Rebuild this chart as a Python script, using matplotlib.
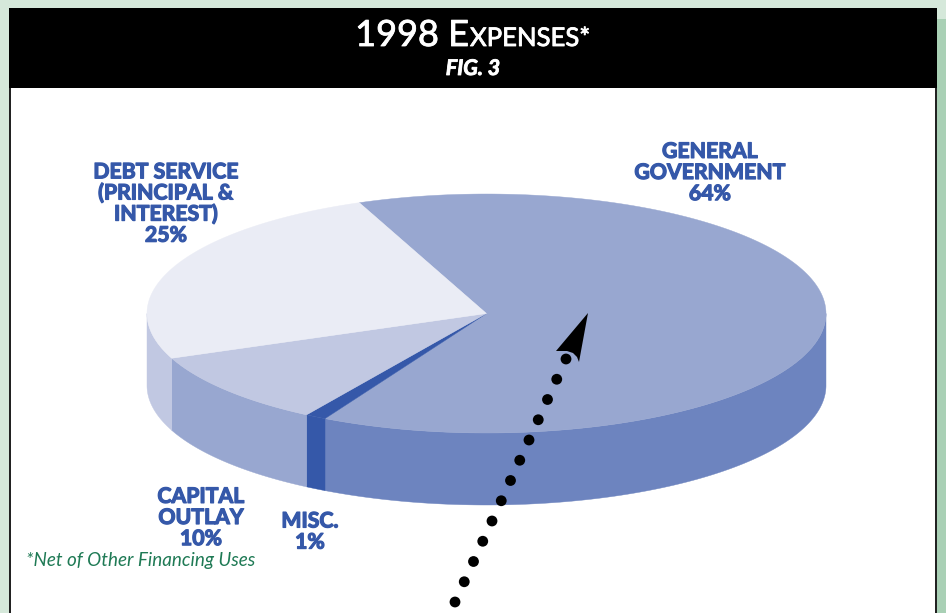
import numpy as np
import matplotlib
matplotlib.use('Agg')
import matplotlib.pyplot as plt
import matplotlib.patheffects as pe
from matplotlib.patches import Polygon, Rectangle, Circle

# slices, clockwise from the back of the pie
categories = ['General Government', 'Misc.', 'Capital Outlay', 'Debt Service']
shares = [64, 1, 10, 25]
top_colors = ['#98A7D0', '#3558A9', '#C1C8E2', '#EAECF5']
side_colors = ['#6D84BF', '#3558A9', '#98A7D0', '#C1C8E2']
labels = ['GENERAL\nGOVERNMENT\n64%', 'MISC.\n1%', 'CAPITAL\nOUTLAY\n10%',
          'DEBT SERVICE\n(PRINCIPAL &\nINTEREST)\n25%']
label_pos = [(710, 173), (310, 532), (201, 518), (166, 204)]

blue = '#3558A9'
cx, cy, rx, ry, depth = 486.5, 313.5, 339.5, 119.5, 72
start_angle = 112

fig = plt.figure(figsize=(9.46, 6.13), dpi=100)
ax = fig.add_axes([0, 0, 1, 1])
ax.set_xlim(0, 946)
ax.set_ylim(613, 0)
ax.axis('off')

# page background and frame
ax.add_patch(Rectangle((0, 0), 946, 613, fc='#D5E8DA', ec='none'))
ax.add_patch(Rectangle((937, 19), 9, 594, fc='#A9D0B5', ec='none'))
ax.add_patch(Rectangle((9, 8), 928, 610, fc='#222222', ec='none'))
ax.add_patch(Rectangle((11, 88), 924, 530, fc='white', ec='none'))
ax.add_patch(Rectangle((9, 8), 928, 80, fc='black', ec='none'))


def rim(a1, a2, drop=0):
    t = np.radians(np.linspace(a1, a2, 200))
    # screen y goes down, so the back of the pie has positive sin
    return np.column_stack([cx + rx*np.cos(t), cy - ry*np.sin(t) + drop])


# walls first, only the part facing the viewer (180..360 deg)
edges = start_angle - np.cumsum([0] + shares) * 3.6
for i in range(len(shares)):
    a1, a2 = edges[i], edges[i+1]
    for shift in (0, -360):
        lo = max(a2 + shift, -180)
        hi = min(a1 + shift, 0)
        if lo < hi:
            pts = np.vstack([rim(lo, hi), rim(lo, hi, depth)[::-1]])
            ax.add_patch(Polygon(pts, fc=side_colors[i], ec=side_colors[i], lw=0.3))

# top faces
for i in range(len(shares)):
    pts = np.vstack([[(cx, cy)], rim(edges[i], edges[i+1])])
    ax.add_patch(Polygon(pts, fc=top_colors[i], ec=top_colors[i], lw=0.3))

# no real black weight here, so thicken the bold with a stroke
heavy = [pe.withStroke(linewidth=0.9, foreground=blue)]
for txt, (x, y) in zip(labels, label_pos):
    ax.text(x, y, txt, ha='center', va='center', color=blue, family='Lato',
            weight='bold', fontsize=15.3, linespacing=1.07, path_effects=heavy)

# title
thick = [pe.withStroke(linewidth=0.6, foreground='white')]
ax.text(469, 46, '1998 E', ha='right', va='baseline', color='white', family='Lato',
        fontsize=26, path_effects=thick)
ax.text(470, 46, 'XPENSES*', ha='left', va='baseline', color='white', family='Lato',
        fontsize=18.5, path_effects=thick)
ax.text(473, 75, 'FIG. 3', ha='center', va='baseline', color='white', family='Lato',
        weight='bold', style='italic', fontsize=15.5, path_effects=thick)

ax.text(26, 566, '*Net of Other Financing Uses', ha='left', va='baseline', color='#1F7A55',
        family='Lato', style='italic', fontsize=13.6)

# dotted arrow
ax.add_patch(Polygon([(588, 313), (556, 351), (567, 351), (573, 353), (577, 357), (579, 362)],
                     fc='black', ec='none'))
for x, y in zip(np.linspace(455, 566, 13), np.linspace(602, 359, 13)):
    ax.add_patch(Circle((x, y), 5.4, fc='black', ec='none'))

fig.savefig('out.png', dpi=100)
